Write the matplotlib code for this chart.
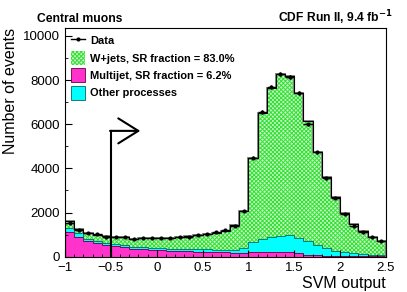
import numpy as np
import matplotlib
matplotlib.use("Agg")
import matplotlib.pyplot as plt
from matplotlib.patches import Patch
from matplotlib.lines import Line2D

plt.rcParams['font.family'] = ['Liberation Sans', 'DejaVu Sans']
plt.rcParams['hatch.linewidth'] = 0.7

# SVM output binning: -1 .. 2.5, width 0.1
edges = np.round(np.arange(-1.0, 2.5001, 0.1), 2)

multijet = [1100, 906, 710, 604, 530, 475, 423, 365, 335, 315, 290, 265, 250, 235,
            220, 210, 200, 190, 150, 150, 196, 200, 200, 200, 196, 166, 80, 60, 45,
            35, 30, 25, 20, 15, 12]
other = [180, 151, 105, 106, 100, 95, 90, 90, 90, 90, 90, 105, 110, 115, 120, 120,
         120, 115, 150, 258, 454, 600, 690, 750, 770, 679, 615, 468, 363, 237, 166,
         126, 101, 75, 63]
wjets = [320, 213, 275, 280, 300, 330, 363, 360, 435, 450, 465, 485, 530, 586, 640,
         700, 755, 860, 1120, 1676, 3835, 5723, 6736, 7325, 7219, 6585, 5445, 4229,
         3216, 2446, 1767, 1314, 1042, 816, 650]
data = [1510, 1210, 1090, 1010, 890, 890, 876, 780, 860, 850, 830, 850, 870, 910,
        960, 1040, 1110, 1200, 1400, 2084, 4485, 6568, 7700, 8290, 8124, 7430, 5990,
        4726, 3550, 2673, 1918, 1404, 1117, 876, 710]

wj_label = "W+jets, SR fraction = 83.0%"
mj_label = "Multijet, SR fraction = 6.2%"
ot_label = "Other processes"

c_mj = "#ff33cc"
c_ot = "#00ffff"
c_wj = "#33e033"
c_wj_face = "#c8f8c8"

fig = plt.figure(figsize=(4.07, 2.92), dpi=100)
ax = fig.add_axes([0.16, 0.121, 0.788, 0.783])

mj = np.array(multijet, float)
ot = mj + np.array(other, float)
tot = ot + np.array(wjets, float)

ax.stairs(mj, edges, baseline=0, fill=True, color=c_mj, lw=0)
ax.stairs(ot, edges, baseline=mj, fill=True, color=c_ot, lw=0)
ax.stairs(tot, edges, baseline=ot, fill=True, facecolor=c_wj_face,
          edgecolor=c_wj, hatch="xxxxxxxx", lw=0)
ax.stairs(mj, edges, color="#660044", lw=0.6)
ax.stairs(ot, edges, color="#006666", lw=0.6)
ax.stairs(tot, edges, color="#888888", lw=1.4)
ax.stairs(tot, edges, color="black", lw=0.8)

centers = 0.5 * (edges[:-1] + edges[1:])
d = np.array(data, float)
ax.errorbar(centers, d, xerr=0.05, yerr=np.sqrt(d), fmt="o", ms=2,
            color="black", lw=1.0, capsize=0)

# selection arrow
ax.plot([-0.5, -0.5], [0, 5700], color="black", lw=1.5)
ax.annotate("", xy=(-0.18, 5700), xytext=(-0.51, 5700),
            arrowprops=dict(arrowstyle="->, head_length=0.8, head_width=0.5",
                            lw=1.5, color="black", mutation_scale=18,
                            shrinkA=0, shrinkB=0))

ax.set_xlim(-1, 2.5)
ax.set_ylim(0, 10360)
ax.set_xticks([-1, -0.5, 0, 0.5, 1, 1.5, 2, 2.5])
ax.set_xticklabels(["\u22121", "\u22120.5", "0", "0.5", "1", "1.5", "2", "2.5"])
ax.set_xticks(np.arange(-1, 2.51, 0.1), minor=True)
ax.set_yticks(np.arange(0, 10001, 2000))
ax.set_yticks(np.arange(0, 10001, 1000), minor=True)
ax.tick_params(which="both", direction="in", labelsize=9.5, top=False, right=False)
ax.tick_params(which="major", length=5)
ax.tick_params(which="minor", length=2.5)
ax.tick_params(axis="x", pad=4)

ax.set_xlabel("SVM output", fontsize=11.5, loc="right", labelpad=1)
ax.set_ylabel("Number of events", fontsize=11.5, loc="top", labelpad=4)

fig.text(0.09, 0.925, "Central muons", fontsize=8.7, fontweight="bold")
fig.text(0.965, 0.925, "CDF Run II, 9.4 fb$^{\\mathbf{-1}}$", fontsize=8.7,
         fontweight="bold", ha="right")

handles = [
    Line2D([], [], color="black", marker="o", ms=2, lw=1.0),
    Patch(facecolor=c_wj_face, edgecolor=c_wj, hatch="xxxxxxxx", lw=0),
    Patch(facecolor=c_mj, edgecolor="#660044", lw=0.6),
    Patch(facecolor=c_ot, edgecolor="#006666", lw=0.6),
]
ax.legend(handles, ["Data", wj_label, mj_label, ot_label], loc="upper left",
          frameon=False, prop=dict(size=7.9, weight="bold"), handlelength=1.3,
          handleheight=1.6, labelspacing=0.3, borderaxespad=0.1,
          handletextpad=0.5, bbox_to_anchor=(0.0, 1.0))

fig.savefig("out.png", dpi=100)
